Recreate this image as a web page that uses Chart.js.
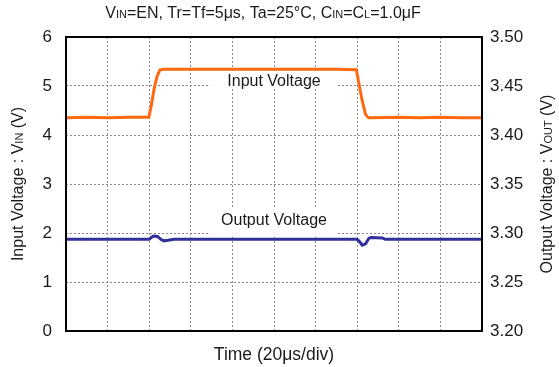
<!DOCTYPE html>
<html>
<head>
<meta charset="utf-8">
<script src="https://cdn.jsdelivr.net/npm/chart.js@4/dist/chart.umd.min.js"></script>
<style>
  html, body { margin: 0; padding: 0; background: #fff; }
  #wrap { width: 559px; height: 367px; }
</style>
</head>
<body>
<div id="wrap"><canvas id="c" width="559" height="367"></canvas></div>
<script>
// ---- data (time in divisions, 20 µs/div) ----
const timeIn = [0, 0.5, 1.0, 1.5, 1.99, 2.05, 2.12, 2.19, 2.26, 2.35, 3, 4, 5, 6, 6.5, 6.98, 7.04, 7.12, 7.2, 7.27, 7.35, 8, 8.5, 9, 9.5, 10];
const vin    = [4.35, 4.36, 4.35, 4.36, 4.36, 4.6, 4.95, 5.2, 5.33, 5.34, 5.34, 5.34, 5.34, 5.34, 5.34, 5.33, 5.05, 4.7, 4.42, 4.35, 4.35, 4.36, 4.35, 4.36, 4.35, 4.35];
const timeOut = [0, 2.0, 2.05, 2.1, 2.2, 2.28, 2.35, 2.45, 2.6, 7.0, 7.06, 7.12, 7.2, 7.28, 7.33, 7.6, 7.68, 10];
const vout    = [1.87, 1.87, 1.91, 1.94, 1.93, 1.87, 1.84, 1.85, 1.87, 1.87, 1.82, 1.75, 1.78, 1.89, 1.91, 1.90, 1.87, 1.87];
const leftTicks = [0, 1, 2, 3, 4, 5, 6];
const rightTicks = ['3.20', '3.25', '3.30', '3.35', '3.40', '3.45', '3.50'];
const seriesNames = ['Input Voltage', 'Output Voltage'];
const xTitle = 'Time (20μs/div)';

const FONT = "'Liberation Sans', Arial, sans-serif";
const TXT = '#1a1a1a';

function pts(xs, ys) { return xs.map((x, i) => ({ x: x, y: ys[i] })); }

function richWidth(ctx, segs) {
  let w = 0;
  for (const s of segs) { ctx.font = s.s + 'px ' + FONT; w += ctx.measureText(s.t).width; }
  return w;
}
function drawRich(ctx, segs, cx, cy, rot) {
  ctx.save();
  ctx.translate(cx, cy);
  if (rot) ctx.rotate(rot);
  const w = richWidth(ctx, segs);
  let x = -w / 2;
  ctx.fillStyle = TXT;
  ctx.textBaseline = 'alphabetic';
  ctx.textAlign = 'left';
  for (const s of segs) {
    ctx.font = s.s + 'px ' + FONT;
    ctx.fillText(s.t, x, 6);
    x += ctx.measureText(s.t).width;
  }
  ctx.restore();
}

const B = 16, S = 11;
const titleSegs = [
  {t:'V', s:B}, {t:'IN', s:S}, {t:'=EN, Tr=Tf=5μs, Ta=25°C, C', s:B}, {t:'IN', s:S},
  {t:'=C', s:B}, {t:'L', s:S}, {t:'=1.0μF', s:B}
];
const leftSegs = [{t:'Input Voltage : V', s:B}, {t:'IN', s:S}, {t:' (V)', s:B}];
const rightSegs = [{t:'Output Voltage : V', s:B}, {t:'OUT', s:S}, {t:' (V)', s:B}];

const decor = {
  id: 'decor',
  beforeDatasetsDraw(chart) {
    const ctx = chart.ctx, xs = chart.scales.x, ys = chart.scales.y;
    const labels = [
      { text: seriesNames[0], yc: 5.1, yTop: 5.28, yBot: 4.95 },
      { text: seriesNames[1], yc: 2.25, yTop: 2.5, yBot: 1.96 }
    ];
    ctx.save();
    for (const l of labels) {
      const x0 = xs.getPixelForValue(3.47), x1 = xs.getPixelForValue(6.52);
      const yT = ys.getPixelForValue(l.yTop), yB = ys.getPixelForValue(l.yBot);
      ctx.fillStyle = '#fff';
      ctx.fillRect(x0, yT, x1 - x0, yB - yT);
      ctx.fillStyle = TXT;
      ctx.font = B + 'px ' + FONT;
      ctx.textAlign = 'center';
      ctx.textBaseline = 'middle';
      ctx.fillText(l.text, xs.getPixelForValue(5), ys.getPixelForValue(l.yc));
    }
    ctx.restore();
  },
  afterDraw(chart) {
    const ctx = chart.ctx, a = chart.chartArea;
    ctx.save();
    ctx.strokeStyle = '#000';
    ctx.lineWidth = 2;
    ctx.strokeRect(a.left, a.top, a.right - a.left, a.bottom - a.top);
    ctx.restore();
    drawRich(ctx, titleSegs, 263, 12, 0);
    drawRich(ctx, leftSegs, 17, (a.top + a.bottom) / 2, -Math.PI / 2);
    drawRich(ctx, rightSegs, 546, (a.top + a.bottom) / 2, -Math.PI / 2);
    ctx.save();
    ctx.fillStyle = TXT;
    ctx.font = '17.5px ' + FONT;
    ctx.textAlign = 'center';
    ctx.textBaseline = 'middle';
    ctx.fillText(xTitle, (a.left + a.right) / 2, 355);
    ctx.restore();
  }
};

new Chart(document.getElementById('c'), {
  type: 'line',
  data: {
    datasets: [
      { label: seriesNames[0], data: pts(timeIn, vin), yAxisID: 'y', borderColor: '#ff6a10', borderWidth: 3, pointRadius: 0, tension: 0 },
      { label: seriesNames[1], data: pts(timeOut, vout), yAxisID: 'y', borderColor: '#30309a', borderWidth: 3, pointRadius: 0, tension: 0 }
    ]
  },
  options: {
    responsive: false,
    animation: false,
    layout: { padding: { top: 37, left: 0, right: 0, bottom: 0 } },
    plugins: { legend: { display: false }, title: { display: false }, tooltip: { enabled: false } },
    scales: {
      x: {
        type: 'linear', min: 0, max: 10,
        ticks: { display: false, stepSize: 1 },
        grid: { color: '#8a8a8a', lineWidth: 1, drawTicks: false },
        border: { display: false, dash: [2, 2] },
        afterFit(s) { s.height = 36; }
      },
      y: {
        position: 'left', min: 0, max: 6,
        afterBuildTicks(s) { s.ticks = leftTicks.map(v => ({ value: v })); },
        ticks: { font: { family: FONT, size: 17 }, color: TXT, padding: 14 },
        grid: { color: '#8a8a8a', lineWidth: 1, drawTicks: false },
        border: { display: false, dash: [2, 2] },
        afterFit(s) { s.width = 66; }
      },
      y2: {
        position: 'right', min: 3.2, max: 3.5,
        afterBuildTicks(s) { s.ticks = rightTicks.map(v => ({ value: parseFloat(v) })); },
        ticks: { font: { family: FONT, size: 17 }, color: TXT, padding: 8, callback: (v) => v.toFixed(2) },
        grid: { display: false, drawTicks: false },
        border: { display: false },
        afterFit(s) { s.width = 77; }
      }
    }
  },
  plugins: [decor]
});
</script>
</body>
</html>
